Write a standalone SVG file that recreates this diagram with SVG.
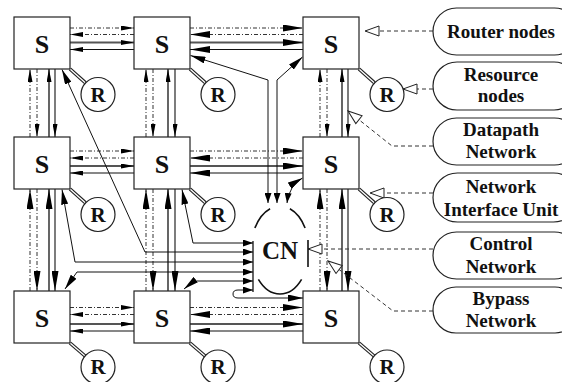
<svg xmlns="http://www.w3.org/2000/svg" width="562" height="382" viewBox="0 0 562 382">
<style>
.box{fill:#fff;stroke:#222;stroke-width:1.2}
.t{font-family:"Liberation Serif","Times New Roman",serif;font-weight:700;text-anchor:middle;fill:#111}
.dd{stroke:#333;stroke-width:1;stroke-dasharray:4 2 1 2;fill:none}
.sg{stroke:#555;stroke-width:1.8;fill:none}
.sb{stroke:#111;stroke-width:1.1;fill:none}
.ln{stroke:#111;stroke-width:1;fill:none}
.leg{stroke:#333;stroke-width:1;stroke-dasharray:4 3;fill:none}
.pill{fill:#fff;stroke:#222;stroke-width:1.2}
.rc{fill:#fff;stroke:#222;stroke-width:1.2}
.d1{stroke:#222;stroke-width:3.6}
.d2{stroke:#fff;stroke-width:1.3}
.arc{stroke:#111;stroke-width:1.6;fill:none}
</style>
<defs>
<marker id="as" viewBox="0 0 13 5" refX="13" refY="2.5" markerWidth="13" markerHeight="5" markerUnits="userSpaceOnUse" orient="auto"><path d="M0,0 L13,2.5 L0,5 z" fill="#000"/></marker>
<marker id="al" viewBox="0 0 20 7" refX="20" refY="3.5" markerWidth="20" markerHeight="7" markerUnits="userSpaceOnUse" orient="auto"><path d="M0,0 L20,3.5 L0,7 z" fill="#000"/></marker>
<marker id="ac" viewBox="0 0 10 7" refX="10" refY="3.5" markerWidth="10" markerHeight="7" markerUnits="userSpaceOnUse" orient="auto-start-reverse"><path d="M0,0 L10,3.5 L0,7 z" fill="#000"/></marker>
<marker id="ad" viewBox="0 0 15 7" refX="15" refY="3.5" markerWidth="15" markerHeight="7" markerUnits="userSpaceOnUse" orient="auto-start-reverse"><path d="M0,0 L15,3.5 L0,7 z" fill="#000"/></marker>
<marker id="ao" viewBox="-1 -1 16 12" refX="14" refY="5" markerWidth="16" markerHeight="12" markerUnits="userSpaceOnUse" orient="auto"><path d="M0,0 L14,5 L0,10 z" fill="#fff" stroke="#222" stroke-width="1"/></marker>
</defs>

<g id="connectors">
<path class="dd" d="M70 28 H134" marker-end="url(#as)"/>
<path class="dd" d="M134 34.5 H70" marker-end="url(#as)"/>
<path class="sg" d="M70 42.5 H134" marker-end="url(#as)"/>
<path class="sb" d="M134 49.5 H70" marker-end="url(#as)"/>
<path class="dd" d="M190 28 H303" marker-end="url(#al)"/>
<path class="dd" d="M303 34.5 H190" marker-end="url(#al)"/>
<path class="sg" d="M190 42.5 H303" marker-end="url(#al)"/>
<path class="sb" d="M303 49.5 H190" marker-end="url(#al)"/>
<path class="dd" d="M70 151 H134" marker-end="url(#as)"/>
<path class="dd" d="M134 158 H70" marker-end="url(#as)"/>
<path class="sg" d="M70 166 H134" marker-end="url(#as)"/>
<path class="sb" d="M134 173 H70" marker-end="url(#as)"/>
<path class="dd" d="M190 151 H303" marker-end="url(#al)"/>
<path class="dd" d="M303 158 H190" marker-end="url(#al)"/>
<path class="sg" d="M190 166 H303" marker-end="url(#al)"/>
<path class="sb" d="M303 173 H190" marker-end="url(#al)"/>
<path class="dd" d="M70 307.5 H134" marker-end="url(#as)"/>
<path class="dd" d="M134 314.5 H70" marker-end="url(#as)"/>
<path class="sg" d="M70 324 H134" marker-end="url(#as)"/>
<path class="sb" d="M134 331 H70" marker-end="url(#as)"/>
<path class="dd" d="M190 307.5 H303" marker-end="url(#al)"/>
<path class="dd" d="M303 314.5 H190" marker-end="url(#al)"/>
<path class="sg" d="M190 324 H303" marker-end="url(#al)"/>
<path class="sb" d="M303 331 H190" marker-end="url(#al)"/>
<path class="dd" d="M30 137 V69" marker-end="url(#as)"/>
<path class="dd" d="M37 69 V137" marker-end="url(#as)"/>
<path class="sg" d="M49 137 V69" marker-end="url(#as)"/>
<path class="sb" d="M55 69 V137" marker-end="url(#as)"/>
<path class="dd" d="M146 137 V69" marker-end="url(#as)"/>
<path class="dd" d="M153 69 V137" marker-end="url(#as)"/>
<path class="sg" d="M168 137 V69" marker-end="url(#as)"/>
<path class="sb" d="M175 69 V137" marker-end="url(#as)"/>
<path class="dd" d="M320 137 V69" marker-end="url(#as)"/>
<path class="dd" d="M327 69 V137" marker-end="url(#as)"/>
<path class="sg" d="M342 137 V69" marker-end="url(#as)"/>
<path class="sb" d="M348 69 V137" marker-end="url(#as)"/>
<path class="dd" d="M30 291 V189" marker-end="url(#al)"/>
<path class="dd" d="M37 189 V291" marker-end="url(#al)"/>
<path class="sg" d="M49 291 V189" marker-end="url(#al)"/>
<path class="sb" d="M55 189 V291" marker-end="url(#al)"/>
<path class="dd" d="M146 291 V189" marker-end="url(#al)"/>
<path class="dd" d="M153 189 V291" marker-end="url(#al)"/>
<path class="sg" d="M168 291 V189" marker-end="url(#al)"/>
<path class="sb" d="M175 189 V291" marker-end="url(#al)"/>
<path class="dd" d="M320 291 V189" marker-end="url(#al)"/>
<path class="dd" d="M327 189 V291" marker-end="url(#al)"/>
<path class="sg" d="M342 291 V189" marker-end="url(#al)"/>
<path class="sb" d="M348 189 V291" marker-end="url(#al)"/>
<path class="ln" d="M253 243 H193 L182 189.5" marker-start="url(#ac)" marker-end="url(#ad)"/>
<path class="ln" d="M253 252 H145 L62 69.5" marker-start="url(#ac)" marker-end="url(#ad)"/>
<path class="ln" d="M253 262 H75 L62 189.5" marker-start="url(#ac)" marker-end="url(#ad)"/>
<path class="ln" d="M253 272 H77 L65 289" marker-start="url(#ac)" marker-end="url(#ad)"/>
<path class="ln" d="M253 281 H194 L184 289" marker-start="url(#ac)" marker-end="url(#ad)"/>
<path class="ln" d="M253 290 H238 Q233 290 233 294 Q233 298 238 298 H303" marker-start="url(#ac)" marker-end="url(#ad)"/>
<path class="ln" d="M268 203 V80 L190.5 55.5" marker-start="url(#ac)" marker-end="url(#ad)"/>
<path class="ln" d="M277 203 V80 L302.5 57" marker-start="url(#ac)" marker-end="url(#ad)"/>
<path class="ln" d="M287 203 Q289 186 302.5 178" marker-start="url(#ac)" marker-end="url(#ad)"/>
<line x1="253" y1="241" x2="253" y2="292" stroke="#111" stroke-width="1.3"/>
<g>
<line class="d1" x1="70" y1="69" x2="85.3" y2="82.7"/><line class="d2" x1="70" y1="69" x2="85.3" y2="82.7"/>
<line class="d1" x1="190" y1="69" x2="205.3" y2="82.7"/><line class="d2" x1="190" y1="69" x2="205.3" y2="82.7"/>
<line class="d1" x1="359" y1="69" x2="374.3" y2="82.7"/><line class="d2" x1="359" y1="69" x2="374.3" y2="82.7"/>
<line class="d1" x1="70" y1="189" x2="85.3" y2="202.7"/><line class="d2" x1="70" y1="189" x2="85.3" y2="202.7"/>
<line class="d1" x1="190" y1="189" x2="205.3" y2="202.7"/><line class="d2" x1="190" y1="189" x2="205.3" y2="202.7"/>
<line class="d1" x1="359" y1="189" x2="374.3" y2="202.7"/><line class="d2" x1="359" y1="189" x2="374.3" y2="202.7"/>
<line class="d1" x1="70" y1="343" x2="85.1" y2="356"/><line class="d2" x1="70" y1="343" x2="85.1" y2="356"/>
<line class="d1" x1="190" y1="343" x2="205.1" y2="356"/><line class="d2" x1="190" y1="343" x2="205.1" y2="356"/>
<line class="d1" x1="359" y1="343" x2="374.1" y2="356"/><line class="d2" x1="359" y1="343" x2="374.1" y2="356"/>
</g>
<path class="leg" d="M433 31 H365" marker-end="url(#ao)"/>
<path class="leg" d="M433 89 H403" marker-end="url(#ao)"/>
<path class="leg" d="M433 146 H392 L348 111" marker-end="url(#ao)"/>
<path class="leg" d="M433 193 H370" marker-end="url(#ao)"/>
<path class="leg" d="M433 249 H308" marker-end="url(#ao)"/>
<path class="leg" d="M433 311 H393 L328 261" marker-end="url(#ao)"/>
</g>

<g id="s11"><rect class="box" x="14" y="17" width="56" height="52"/><text class="t" x="42" y="52.5" font-size="26">S</text></g>
<g id="s12"><rect class="box" x="134" y="17" width="56" height="52"/><text class="t" x="162" y="52.5" font-size="26">S</text></g>
<g id="s13"><rect class="box" x="303" y="17" width="56" height="52"/><text class="t" x="331" y="52.5" font-size="26">S</text></g>
<g id="s21"><rect class="box" x="14" y="137" width="56" height="52"/><text class="t" x="42" y="172.5" font-size="26">S</text></g>
<g id="s22"><rect class="box" x="134" y="137" width="56" height="52"/><text class="t" x="162" y="172.5" font-size="26">S</text></g>
<g id="s23"><rect class="box" x="303" y="137" width="56" height="52"/><text class="t" x="331" y="172.5" font-size="26">S</text></g>
<g id="s31"><rect class="box" x="14" y="291" width="56" height="52"/><text class="t" x="42" y="326.5" font-size="26">S</text></g>
<g id="s32"><rect class="box" x="134" y="291" width="56" height="52"/><text class="t" x="162" y="326.5" font-size="26">S</text></g>
<g id="s33"><rect class="box" x="303" y="291" width="56" height="52"/><text class="t" x="331" y="326.5" font-size="26">S</text></g>

<g id="r11"><circle class="rc" cx="98" cy="94.5" r="17"/><text class="t" x="98" y="101.5" font-size="21">R</text></g>
<g id="r12"><circle class="rc" cx="218" cy="94.5" r="17"/><text class="t" x="218" y="101.5" font-size="21">R</text></g>
<g id="r13"><circle class="rc" cx="387" cy="94.5" r="17"/><text class="t" x="387" y="101.5" font-size="21">R</text></g>
<g id="r21"><circle class="rc" cx="98" cy="214.5" r="17"/><text class="t" x="98" y="221.5" font-size="21">R</text></g>
<g id="r22"><circle class="rc" cx="218" cy="214.5" r="17"/><text class="t" x="218" y="221.5" font-size="21">R</text></g>
<g id="r23"><circle class="rc" cx="387" cy="214.5" r="17"/><text class="t" x="387" y="221.5" font-size="21">R</text></g>
<g id="r31"><circle class="rc" cx="98" cy="367" r="17"/><text class="t" x="98" y="374" font-size="21">R</text></g>
<g id="r32"><circle class="rc" cx="218" cy="367" r="17"/><text class="t" x="218" y="374" font-size="21">R</text></g>
<g id="r33"><circle class="rc" cx="387" cy="367" r="17"/><text class="t" x="387" y="374" font-size="21">R</text></g>

<g id="cn">
<path class="arc" d="M254.9 228 A29 44 0 0 1 270.1 208.7"/>
<path class="arc" d="M289.9 208.7 A29 44 0 0 1 305.1 228"/>
<path class="arc" d="M301.6 279.4 A29 44 0 0 1 258.4 279.4"/>
<line x1="308" y1="240" x2="308" y2="267" stroke="#111" stroke-width="1.6"/>
<text class="t" x="280" y="258.5" font-size="25">CN</text>
</g>

<g id="leg-router"><rect class="pill" x="433" y="8" width="145" height="47" rx="23.5"/><text class="t" x="501" y="37.5" font-size="19">Router nodes</text></g>
<g id="leg-resource"><rect class="pill" x="433" y="62" width="145" height="48" rx="24"/><text class="t" x="501" y="80.5" font-size="19">Resource</text><text class="t" x="501" y="102" font-size="19">nodes</text></g>
<g id="leg-datapath"><rect class="pill" x="433" y="118" width="145" height="47" rx="23.5"/><text class="t" x="501" y="136" font-size="19">Datapath</text><text class="t" x="501" y="158" font-size="19">Network</text></g>
<g id="leg-niu"><rect class="pill" x="433" y="173" width="145" height="49" rx="24.5"/><text class="t" x="501" y="193" font-size="19">Network</text><text class="t" x="501" y="216" font-size="19">Interface Unit</text></g>
<g id="leg-control"><rect class="pill" x="433" y="232" width="145" height="47" rx="23.5"/><text class="t" x="501" y="250" font-size="19">Control</text><text class="t" x="501" y="273" font-size="19">Network</text></g>
<g id="leg-bypass"><rect class="pill" x="433" y="287" width="145" height="46" rx="23"/><text class="t" x="501" y="305" font-size="19">Bypass</text><text class="t" x="501" y="327" font-size="19">Network</text></g>
</svg>
